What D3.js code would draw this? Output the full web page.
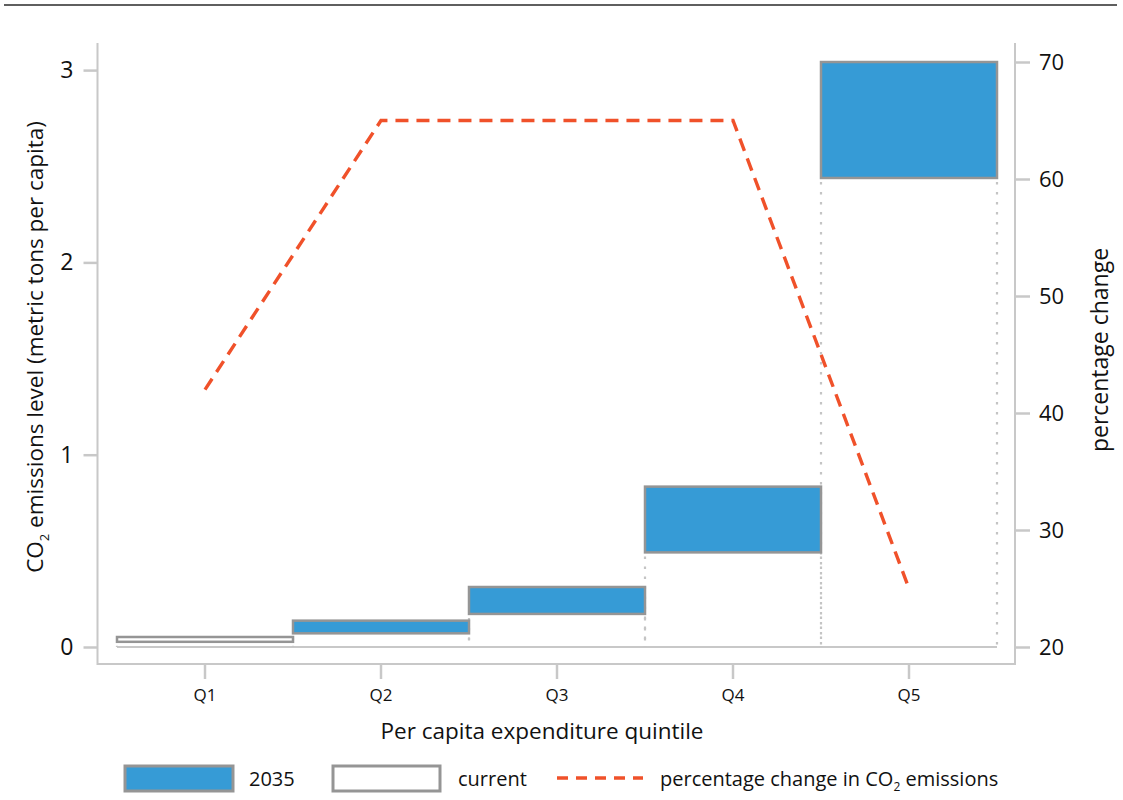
<!DOCTYPE html>
<html>
<head>
<meta charset="utf-8">
<script src="https://cdn.jsdelivr.net/npm/d3@7"></script>
<style>
  html, body { margin: 0; padding: 0; background: #fff; }
  svg { display: block; font-family: "Open Sans", "Noto Sans", sans-serif; }
</style>
</head>
<body>
<svg id="chart" width="1123" height="800"></svg>
<script>
// Per capita expenditure quintiles
const quintiles = ["Q1", "Q2", "Q3", "Q4", "Q5"];
// Floating box: lower and upper CO2 level (metric tons per capita)
const boxLow  = [0.027, 0.071, 0.172, 0.492, 2.439];
const boxHigh = [0.052, 0.137, 0.312, 0.834, 3.042];
// Which legend key each box is drawn as
const boxSeries = ["current", "2035", "2035", "2035", "2035"];
// Percentage change in CO2 emissions
const pctChange = [42, 65, 65, 65, 25];
// Tick values
const leftTicks = [0, 1, 2, 3];
const rightTicks = [20, 30, 40, 50, 60, 70];

const BLUE = "#369bd6", BOX_STROKE = "#959595", AXIS = "#c8c8c8",
      DOT = "#c4c4c4", ORANGE = "#f0512a", FONT = "'Open Sans', 'Noto Sans', sans-serif";

const svg = d3.select("#chart");

// top rule
svg.append("line").attr("x1", 4).attr("x2", 1117).attr("y1", 5).attr("y2", 5)
  .attr("stroke", "#2a2a2a").attr("stroke-width", 1.6);

const x = d3.scaleBand().domain(quintiles).range([117, 997]).padding(0);
const yL = d3.scaleLinear().domain([0, 3]).range([647, 70.1]);
const yR = d3.scaleLinear().domain([20, 70]).range([647, 62]);

const plotLeft = 97.5, plotRight = 1015, plotTop = 43, plotBottom = 664;

// frame lines (left, bottom, right)
svg.append("path")
  .attr("d", `M${plotLeft},${plotTop}V${plotBottom}H${plotRight}V${plotTop}`)
  .attr("fill", "none").attr("stroke", AXIS).attr("stroke-width", 2);

function styleAxis(g, size) {
  g.attr("font-family", FONT);
  g.select(".domain").remove();
  g.selectAll(".tick line").attr("stroke", AXIS).attr("stroke-width", 2.5);
  g.selectAll(".tick text").attr("font-size", size).attr("fill", "#111");
}

// left axis
svg.append("g").attr("transform", `translate(${plotLeft},0)`)
  .call(d3.axisLeft(yL).tickValues(leftTicks).tickFormat(d3.format("d")).tickSize(14).tickPadding(10))
  .call(g => styleAxis(g, 23));

// right axis
svg.append("g").attr("transform", `translate(${plotRight},0)`)
  .call(d3.axisRight(yR).tickValues(rightTicks).tickSize(15).tickPadding(9))
  .call(g => styleAxis(g, 22));

// bottom axis
svg.append("g").attr("transform", `translate(0,${plotBottom})`)
  .call(d3.axisBottom(x).tickSize(15).tickPadding(10))
  .call(g => styleAxis(g, 17));

// baseline at zero
svg.append("line").attr("x1", x.range()[0]).attr("x2", x.range()[1])
  .attr("y1", yL(0)).attr("y2", yL(0))
  .attr("stroke", AXIS).attr("stroke-width", 2);

const rows = quintiles.map((q, i) => ({ q, lo: boxLow[i], hi: boxHigh[i], s: boxSeries[i], p: pctChange[i] }));

// dotted drop lines from each box down to the baseline
const drops = [];
rows.forEach(d => {
  drops.push({ x: x(d.q), y: yL(d.lo) });
  drops.push({ x: x(d.q) + x.bandwidth(), y: yL(d.lo) });
});
svg.append("g").selectAll("line").data(drops).join("line")
  .attr("x1", d => d.x).attr("x2", d => d.x)
  .attr("y1", d => d.y + 4).attr("y2", yL(0))
  .attr("stroke", DOT).attr("stroke-width", 2.2).attr("stroke-dasharray", "2.5,7.5");

// floating boxes
svg.append("g").selectAll("rect").data(rows).join("rect")
  .attr("x", d => x(d.q)).attr("width", x.bandwidth())
  .attr("y", d => yL(d.hi)).attr("height", d => yL(d.lo) - yL(d.hi))
  .attr("fill", d => d.s === "2035" ? BLUE : "#fff")
  .attr("stroke", BOX_STROKE).attr("stroke-width", 2.5);

// percentage change line
const line = d3.line().x(d => x(d.q) + x.bandwidth() / 2).y(d => yR(d.p));
svg.append("path").datum(rows).attr("d", line)
  .attr("fill", "none").attr("stroke", ORANGE).attr("stroke-width", 3.4)
  .attr("stroke-dasharray", "13,8");

// axis titles
const leftTitle = svg.append("text").attr("transform", "translate(43,347) rotate(-90)")
  .attr("text-anchor", "middle").attr("font-size", 22.5).attr("fill", "#111");
leftTitle.append("tspan").text("CO");
leftTitle.append("tspan").text("2").attr("font-size", 13).attr("dy", 6);
leftTitle.append("tspan").text(" emissions level (metric tons per capita)").attr("dy", -6);

svg.append("text").attr("transform", "translate(1108,350) rotate(-90)")
  .attr("text-anchor", "middle").attr("font-size", 23).attr("fill", "#111")
  .text("percentage change");

svg.append("text").attr("x", 542).attr("y", 739).attr("text-anchor", "middle")
  .attr("font-size", 22.5).attr("fill", "#111").text("Per capita expenditure quintile");

// legend
const lg = svg.append("g");
lg.append("rect").attr("x", 125).attr("y", 766).attr("width", 108).attr("height", 25)
  .attr("fill", BLUE).attr("stroke", BOX_STROKE).attr("stroke-width", 3);
lg.append("text").attr("x", 249).attr("y", 786).attr("font-size", 20).attr("fill", "#111").text("2035");
lg.append("rect").attr("x", 333).attr("y", 766).attr("width", 107).attr("height", 25)
  .attr("fill", "#fff").attr("stroke", BOX_STROKE).attr("stroke-width", 3);
lg.append("text").attr("x", 458).attr("y", 786).attr("font-size", 20).attr("fill", "#111").text("current");
lg.append("line").attr("x1", 557).attr("x2", 643).attr("y1", 778).attr("y2", 778)
  .attr("stroke", ORANGE).attr("stroke-width", 3.4).attr("stroke-dasharray", "11,8");
const lt = lg.append("text").attr("x", 660).attr("y", 786).attr("font-size", 20).attr("fill", "#111");
lt.append("tspan").text("percentage change in CO");
lt.append("tspan").text("2").attr("font-size", 12).attr("dy", 5);
lt.append("tspan").text(" emissions").attr("dy", -5);
</script>
</body>
</html>
